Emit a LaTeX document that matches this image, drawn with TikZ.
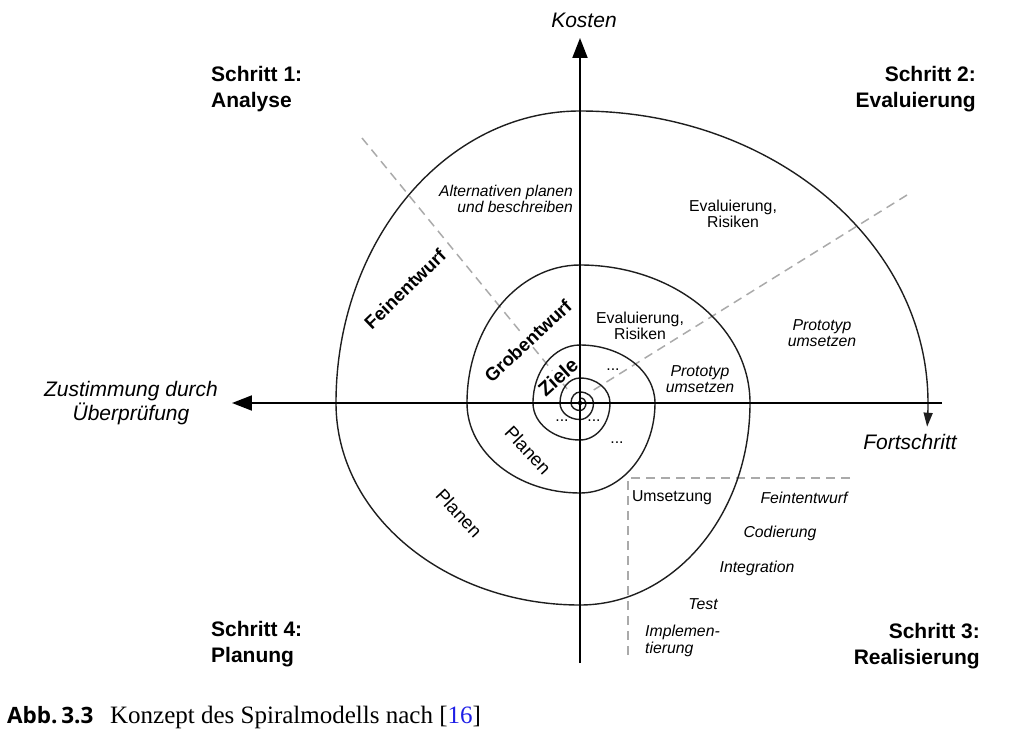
\documentclass[tikz,border=0pt]{standalone}
\usepackage{fontspec}
\setmainfont{Liberation Sans}
\newfontfamily\seriffont{Liberation Serif}
\newfontfamily\capfont{Open Sans}
\usetikzlibrary{arrows.meta}
\definecolor{dashgray}{RGB}{170,170,170}
\definecolor{spiralc}{RGB}{30,30,30}
\definecolor{refblue}{RGB}{30,30,230}
\begin{document}
\begin{tikzpicture}[x=1pt,y=1pt,
  spiral/.style={draw=spiralc, line width=1.4pt},
  axisln/.style={draw=black, line width=2pt},
  dashln/.style={draw=dashgray, line width=1.5pt, dash pattern=on 9pt off 6pt},
  head/.style={font=\fontsize{21}{26}\selectfont\bfseries, inner sep=0pt},
  axlbl/.style={font=\fontsize{21}{24}\selectfont\itshape, inner sep=0pt, align=center},
  lbl/.style={font=\fontsize{15.8}{16}\selectfont, inner sep=0pt, align=center},
  lblit/.style={font=\fontsize{15.8}{16}\selectfont\itshape, inner sep=0pt, align=center},
  rotb/.style={font=\fontsize{18.5}{18.5}\selectfont\bfseries, inner sep=1pt, fill=white},
  rotr/.style={font=\fontsize{18.5}{18.5}\selectfont, inner sep=1pt},
]
\path[use as bounding box] (-580,-342) rectangle (444,403);

% coordinates
\coordinate (ulA) at (-218,265);
\coordinate (ulB) at (-12,13);
\coordinate (urA) at (327,208);
\coordinate (urB) at (12,12);
\coordinate (bxR) at (270,-75);
\coordinate (bxC) at (48,-75);
\coordinate (bxB) at (48,-257);
\coordinate (vb) at (0,-260);
\coordinate (vt) at (0,365);
\coordinate (hr) at (362,0);
\coordinate (hl) at (-348,0);

% dashed lines
\draw[dashln] (ulA) -- (ulB);
\draw[dashln] (urA) -- (urB);
\draw[dashln] (bxR) -- (bxC) -- (bxB);

% headings
\node[head, anchor=west, align=left] (s1) at (-369,314) {Schritt 1:\\Analyse};
\node[head, anchor=east, align=right] (s2) at (396,314) {Schritt 2:\\Evaluierung};
\node[head, anchor=west, align=left] (s4) at (-369,-241) {Schritt 4:\\Planung};
\node[head, anchor=east, align=right] (s3) at (400,-243) {Schritt 3:\\Realisierung};

% axis labels
\node[axlbl] (kosten) at (4,383) {Kosten};
\node[axlbl] (zust) at (-449,0) {Zustimmung durch\\Überprüfung};
\node[axlbl] (fort) at (330,-39) {Fortschritt};

% quadrant texts
\node[lblit, anchor=east, align=right, font=\fontsize{15.6}{15.2}\selectfont\itshape] (alt) at (-7,204) {Alternativen planen\\und beschreiben};
\node[lbl] (evo) at (153,189) {Evaluierung,\\Risiken};
\node[lblit] (proto) at (242,70) {Prototyp\\umsetzen};
\node[lbl] (evi) at (60,77) {Evaluierung,\\Risiken};
\node[lblit] (proti) at (120,24) {Prototyp\\umsetzen};
\node[lbl] (d1) at (33,33) {...};
\node[lbl] (d2) at (-18,-18) {...};
\node[lbl] (d3) at (14,-18) {...};
\node[lbl] (d4) at (37,-40) {...};

% rotated texts
\node[rotb, rotate=42, font=\fontsize{20}{20}\selectfont\bfseries] (ziele) at (-22,26) {Ziele};
\node[rotb, rotate=43] (grob) at (-52,62) {Grobentwurf};
\node[rotb, rotate=44] (fein) at (-175,114) {Feinentwurf};
\node[rotr, rotate=-47] (plani) at (-52,-47) {Planen};
\node[rotr, rotate=-47] (plano) at (-121,-110) {Planen};

% realisation texts
\node[lbl] (ums) at (92,-95) {Umsetzung};
\node[lblit] (feint) at (224,-95) {Feintentwurf};
\node[lblit] (cod) at (200,-130) {Codierung};
\node[lblit] (integ) at (177,-165) {Integration};
\node[lblit] (test) at (123,-201) {Test};
\node[lblit, anchor=west, align=left, font=\fontsize{15.8}{17}\selectfont\itshape] (impl) at (65,-238) {Implemen-\\tierung};

% spiral
\draw[spiral,-{Triangle[length=14pt,width=9pt]}] (0,5)
  arc[start angle=90,end angle=0,x radius=6,y radius=5]
  arc[start angle=0,end angle=-90,x radius=6,y radius=7.5]
  arc[start angle=270,end angle=180,x radius=9,y radius=7.5]
  arc[start angle=180,end angle=90,x radius=9,y radius=11]
  arc[start angle=90,end angle=0,x radius=13.5,y radius=11]
  arc[start angle=0,end angle=-90,x radius=13.5,y radius=16.5]
  arc[start angle=270,end angle=180,x radius=20,y radius=16.5]
  arc[start angle=180,end angle=90,x radius=20,y radius=25]
  arc[start angle=90,end angle=0,x radius=30,y radius=25]
  arc[start angle=0,end angle=-90,x radius=30,y radius=37]
  arc[start angle=270,end angle=180,x radius=47,y radius=37]
  arc[start angle=180,end angle=90,x radius=47,y radius=58]
  arc[start angle=90,end angle=0,x radius=75,y radius=58]
  arc[start angle=0,end angle=-90,x radius=75,y radius=90]
  arc[start angle=270,end angle=180,x radius=113,y radius=90]
  arc[start angle=180,end angle=90,x radius=113,y radius=138]
  arc[start angle=90,end angle=0,x radius=170,y radius=138]
  arc[start angle=0,end angle=-90,x radius=170,y radius=202]
  arc[start angle=270,end angle=180,x radius=244,y radius=202]
  arc[start angle=180,end angle=90,x radius=244,y radius=292]
  arc[start angle=90,end angle=0,x radius=348,y radius=292]
  arc[start angle=0,end angle=-4,x radius=348,y radius=340];
\node[circle, fill=spiralc, inner sep=1.6pt] (ctr) at (0,0) {};

% axes
\draw[axisln,-{Triangle[length=20pt,width=15pt]}] (vb) -- (vt);
\draw[axisln,-{Triangle[length=20pt,width=15pt]}] (hr) -- (hl);

% caption
\node[anchor=base west, inner sep=0pt, font=\capfont\fontsize{22.5}{22.5}\selectfont\bfseries] (cap1) at (-573,-320) {Abb.\,3.3};
\node[anchor=base west, inner sep=0pt, font=\seriffont\fontsize{25}{25}\selectfont] (cap2) at (-470,-320) {Konzept des Spiralmodells nach [{\color{refblue}16}]};
\end{tikzpicture}
\end{document}
